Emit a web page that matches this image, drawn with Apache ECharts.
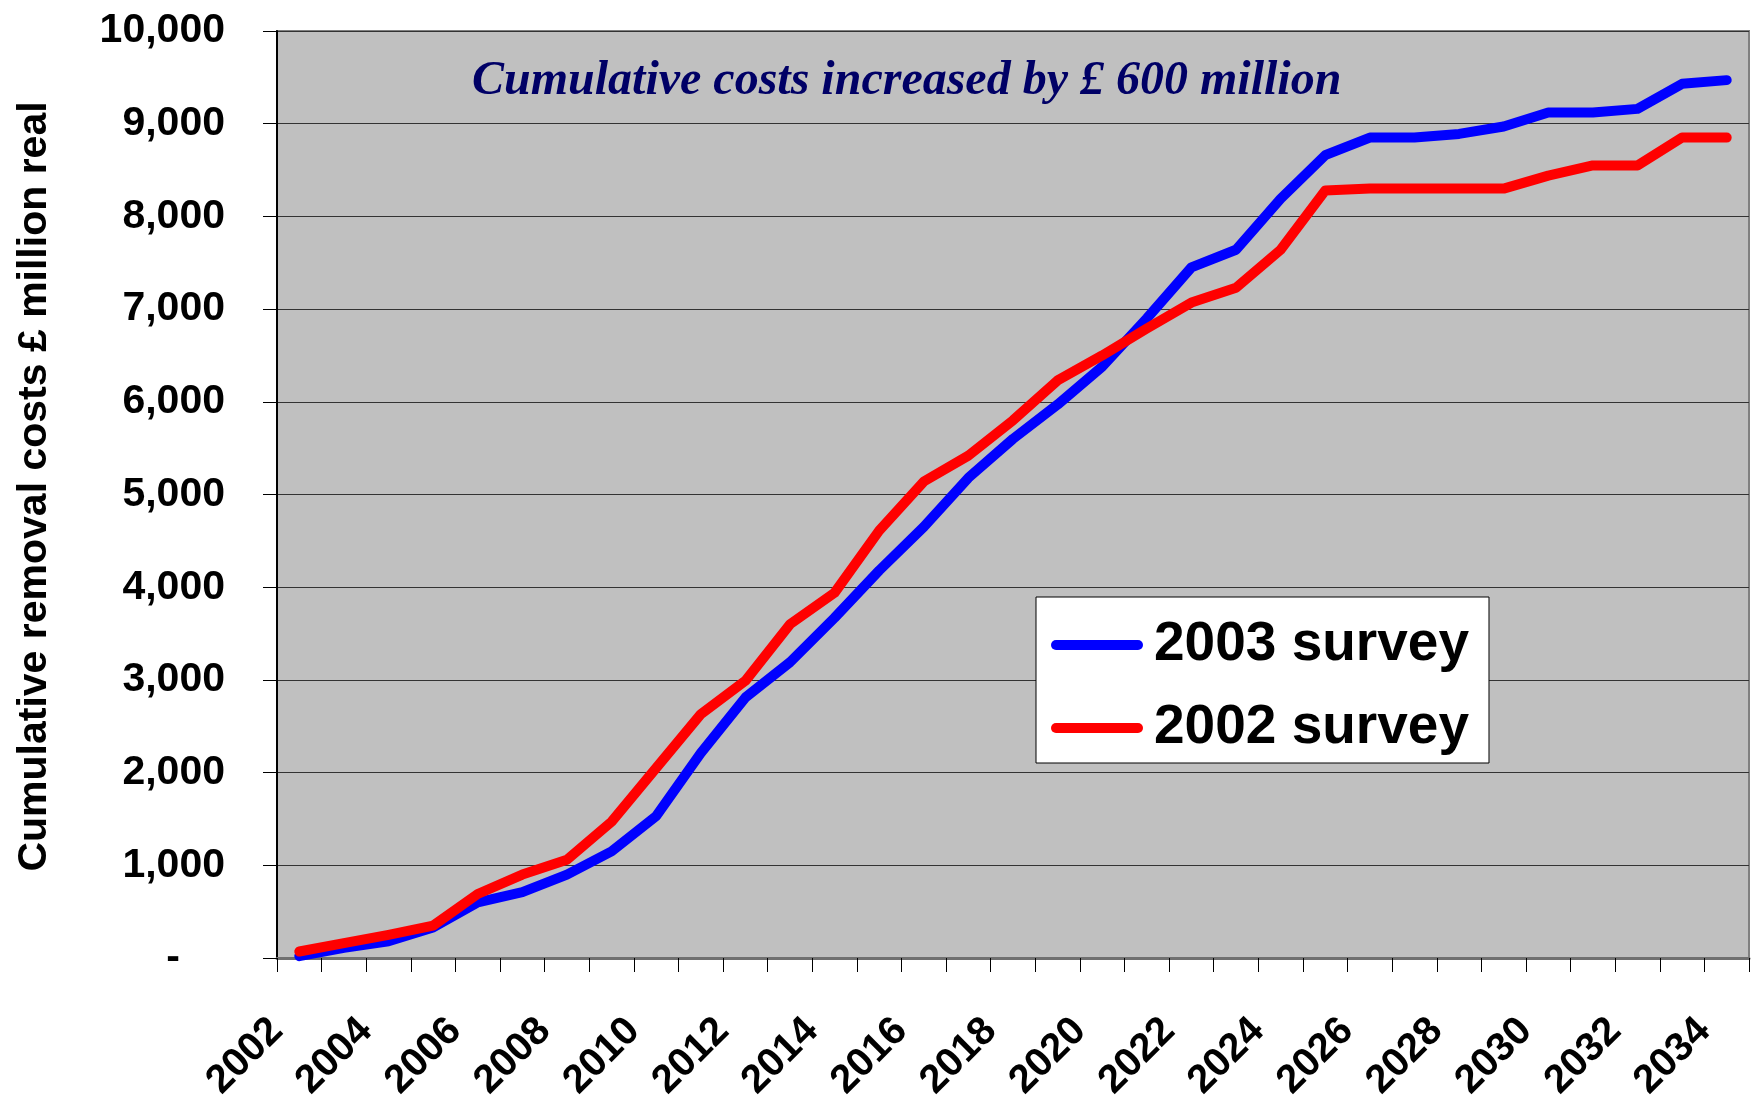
<!DOCTYPE html>
<html><head><meta charset="utf-8">
<script src="https://cdn.jsdelivr.net/npm/echarts@6/dist/echarts.min.js"></script>
<style>html,body{margin:0;padding:0;background:#fff}#c{width:1753px;height:1105px}</style>
</head><body><div id="c"></div>
<script>
const years = ["2002","2003","2004","2005","2006","2007","2008","2009","2010","2011","2012","2013","2014","2015","2016","2017","2018","2019","2020","2021","2022","2023","2024","2025","2026","2027","2028","2029","2030","2031","2032","2033","2034"];
const survey2003 = [20,110,180,330,600,710,900,1150,1530,2210,2810,3190,3670,4180,4650,5180,5600,5970,6380,6900,7450,7640,8190,8660,8850,8850,8890,8970,9120,9120,9160,9430,9470];
const survey2002 = [70,160,250,350,690,900,1060,1470,2050,2630,2990,3600,3940,4610,5140,5420,5800,6230,6500,6790,7070,7230,7640,8280,8300,8300,8300,8300,8440,8550,8550,8850,8850];
const seriesNames = ["2003 survey", "2002 survey"];
const titleText = "Cumulative costs increased by \u00a3 600 million";
const yAxisTitle = "Cumulative removal costs \u00a3 million real";

const chart = echarts.init(document.getElementById('c'), null, {renderer: 'canvas'});
const sans = "'Liberation Sans', Arial, sans-serif";
const capsule = 'path://M5,0 L87,0 A5,5 0 0 1 87,10 L5,10 A5,5 0 0 1 5,0 Z';
chart.setOption({
  animation: false,
  backgroundColor: '#ffffff',
  title: {
    text: titleText, left: 467, top: 53,
    textStyle: {fontFamily: "'Liberation Serif', 'Times New Roman', serif", fontStyle: 'italic', fontWeight: 'bold', fontSize: 48, color: '#000066'}
  },
  grid: {left: 277, right: 4, top: 31, bottom: 147, show: true, backgroundColor: '#C0C0C0', borderColor: '#808080', borderWidth: 2},
  legend: {
    orient: 'vertical', left: 1036, top: 597,
    backgroundColor: '#ffffff', borderColor: '#000000', borderWidth: 1,
    padding: [15, 20, 2, 15], itemGap: 17,
    itemWidth: 92, itemHeight: 10,
    data: [{name: seriesNames[0], icon: capsule}, {name: seriesNames[1], icon: capsule}],
    textStyle: {fontFamily: sans, fontWeight: 'bold', fontSize: 55, color: '#000', lineHeight: 66, padding: [0, 0, 0, 6]}
  },
  xAxis: {
    type: 'category', data: years, boundaryGap: true,
    axisLine: {show: true, lineStyle: {color: '#707070', width: 3}},
    axisTick: {show: true, interval: 0, length: 14, lineStyle: {color: '#000', width: 1}},
    axisLabel: {interval: 1, rotate: 45, margin: 44, fontFamily: sans, fontWeight: 'bold', fontSize: 40, color: '#000', padding: [0, 32, 0, 0]},
    splitLine: {show: false}
  },
  yAxis: {
    type: 'value', min: 0, max: 10000, interval: 1000,
    name: yAxisTitle, nameLocation: 'middle', nameGap: 222, nameRotate: 90,
    nameTextStyle: {fontFamily: sans, fontWeight: 'bold', fontSize: 41, color: '#000', padding: [0, 0, 0, 16]},
    axisLine: {show: true, lineStyle: {color: '#000', width: 2}},
    axisTick: {show: true, length: 14, lineStyle: {color: '#000', width: 1}},
    axisLabel: {
      margin: 52, fontFamily: sans, fontWeight: 'bold', fontSize: 41, color: '#000',
      formatter: function (v) { return v === 0 ? '{z|-}' : v.toLocaleString('en-US'); },
      rich: {z: {fontFamily: sans, fontWeight: 'bold', fontSize: 41, color: '#000', padding: [0, 45, 0, 0]}}
    },
    splitLine: {show: true, lineStyle: {color: '#333333', width: 1}}
  },
  series: [
    {name: seriesNames[0], type: 'line', data: survey2003, symbol: 'none', color: '#0000FF',
     lineStyle: {color: '#0000FF', width: 10, cap: 'round', join: 'round'}},
    {name: seriesNames[1], type: 'line', data: survey2002, symbol: 'none', color: '#FF0000',
     lineStyle: {color: '#FF0000', width: 10, cap: 'round', join: 'round'}}
  ]
});
</script></body></html>
